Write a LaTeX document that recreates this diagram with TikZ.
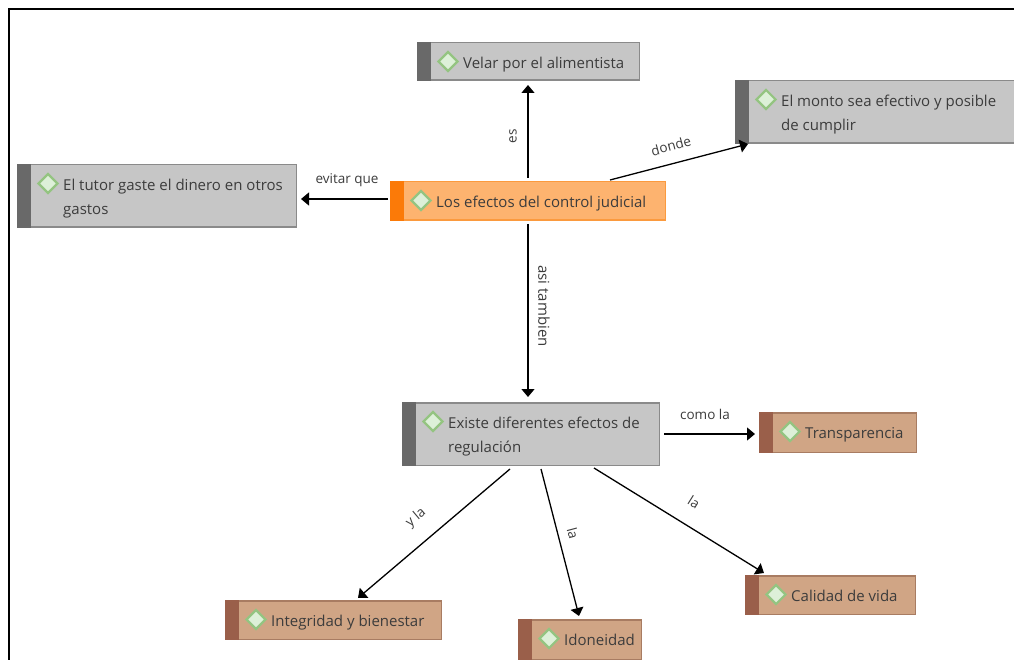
\documentclass[tikz,border=0pt]{standalone}
\usepackage{fontspec}
\setmainfont{Open Sans}
\usetikzlibrary{arrows.meta,shapes.geometric}
\definecolor{graybox}{HTML}{C6C6C6}
\definecolor{grayedge}{HTML}{8A8A8A}
\definecolor{graybar}{HTML}{696969}
\definecolor{orangebox}{HTML}{FDB36F}
\definecolor{orangeedge}{HTML}{FB9A3E}
\definecolor{orangebar}{HTML}{FB7A08}
\definecolor{brownbox}{HTML}{D0A585}
\definecolor{brownedge}{HTML}{A87C62}
\definecolor{brownbar}{HTML}{9A5F4A}
\definecolor{txt}{HTML}{3C3C3C}
\definecolor{dfill}{HTML}{DDF0D8}
\definecolor{dedge}{HTML}{94C481}
\tikzset{
 x=1pt,y=-1pt,
 conn/.style={draw=black,line width=1.3pt,-{Triangle[length=8pt,width=13pt]}},
 lab/.style={font=\fontsize{13.5}{15}\selectfont,text=txt,inner sep=0pt},
 boxtext/.style={font=\fontsize{15}{24}\selectfont,text=txt,inner sep=0pt,align=left,anchor=north west},
 mark diamond/.style={diamond,draw=dedge,fill=dfill,line width=2.2pt,minimum width=20pt,minimum height=20pt,inner sep=0pt},
}
\newcommand{\cbox}[9]{% name,x0,y0,x1,y1,fill,edge,bar,text
 \node[draw=#7,fill=#6,line width=1.5pt,minimum width=#4pt-#2pt-1.5pt,minimum height=#5pt-#3pt-1.5pt,inner sep=0pt,anchor=north west] (#1) at (#2,#3) {};
 \path[fill=#8] (#2,#3) rectangle (#2+14,#5);
 \node[mark diamond] (#1d) at (#2+31,#3+19.5) {};
 \node[boxtext] (#1t) at (#2+46,#3+14) {\rule{0pt}{12pt}#9};
}
\begin{document}
\begin{tikzpicture}
\useasboundingbox (0,0) rectangle (1014,660);
\fill[white] (0,0) rectangle (1014,660);
\coordinate (fa) at (9,660);
\coordinate (fb) at (9,9);
\coordinate (fc) at (1014,9);
\draw[black,line width=1.7pt] (fa) -- (fb) -- (fc);
\cbox{velar}{417}{42}{640}{81}{graybox}{grayedge}{graybar}{Velar por el alimentista}
\cbox{monto}{735}{80}{1015}{144}{graybox}{grayedge}{graybar}{El monto sea efectivo y posible\\de cumplir}
\cbox{tutor}{17}{164}{297}{228}{graybox}{grayedge}{graybar}{El tutor gaste el dinero en otros\\gastos}
\cbox{efectos}{390}{181}{666}{221}{orangebox}{orangeedge}{orangebar}{Los efectos del control judicial}
\cbox{existe}{402}{402}{660}{466}{graybox}{grayedge}{graybar}{Existe diferentes efectos de\\regulación}
\cbox{transp}{759}{412}{917}{453}{brownbox}{brownedge}{brownbar}{Transparencia}
\cbox{integ}{225}{600}{442}{640}{brownbox}{brownedge}{brownbar}{Integridad y bienestar}
\cbox{idon}{518}{619}{642}{660}{brownbox}{brownedge}{brownbar}{Idoneidad}
\cbox{calidad}{745}{575}{916}{615}{brownbox}{brownedge}{brownbar}{Calidad de vida}
\coordinate (e1) at (528,178);
\coordinate (e2) at (528,85);
\draw[conn] (e1) -- (e2);
\coordinate (e3) at (610,180);
\coordinate (e4) at (748,144);
\draw[conn] (e3) -- (e4);
\coordinate (e5) at (388,199);
\coordinate (e6) at (301,199);
\draw[conn] (e5) -- (e6);
\coordinate (e7) at (528,224);
\coordinate (e8) at (528,397);
\draw[conn] (e7) -- (e8);
\coordinate (e9) at (664,434);
\coordinate (e10) at (755,434);
\draw[conn] (e9) -- (e10);
\coordinate (e11) at (510,469);
\coordinate (e12) at (358,598);
\draw[conn] (e11) -- (e12);
\coordinate (e13) at (541,469);
\coordinate (e14) at (579,616);
\draw[conn] (e13) -- (e14);
\coordinate (e15) at (594,468);
\coordinate (e16) at (764,573);
\draw[conn] (e15) -- (e16);
\node[lab,rotate=90] (l1) at (513,136) {es};
\node[lab,rotate=15] (l2) at (671,146) {donde};
\node[lab] (l3) at (347,180) {evitar que};
\node[lab,rotate=-90,font=\fontsize{15}{17}\selectfont] (l4) at (544,306) {asi tambien};
\node[lab] (l5) at (705,414) {como la};
\node[lab,rotate=40] (l6) at (416,518) {y la};
\node[lab,rotate=-75] (l7) at (573,533) {la};
\node[lab,rotate=-32] (l8) at (694,502) {la};
\end{tikzpicture}
\end{document}
